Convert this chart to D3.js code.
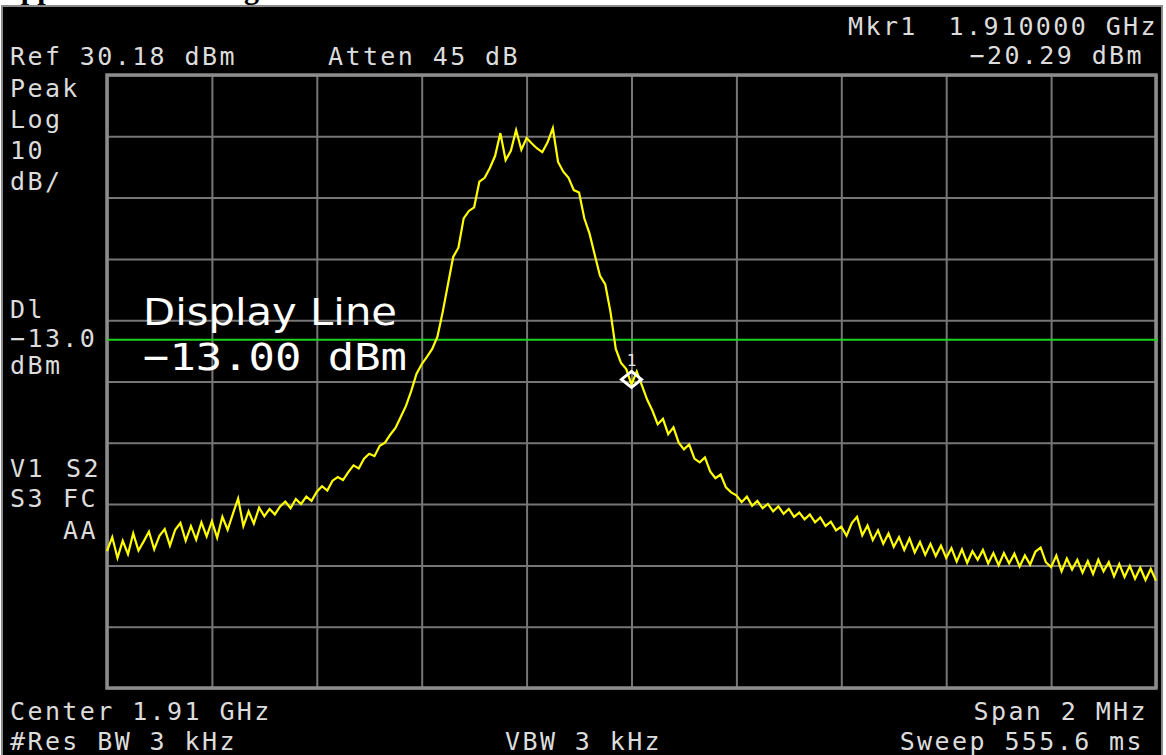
<!DOCTYPE html>
<html>
<head>
<meta charset="utf-8">
<script src="https://cdn.jsdelivr.net/npm/d3@7"></script>
<style>
  html, body { margin: 0; padding: 0; background: #ffffff; }
  svg { display: block; }
</style>
</head>
<body>
<svg id="chart" width="1166" height="755"></svg>
<script>
// ---- Analyzer settings ----
const refLevelDbm = 30.18;
const dbPerDiv = 10;
const divisions = [0, 1, 2, 3, 4, 5, 6, 7, 8, 9, 10];
const centerGHz = 1.91;
const spanMHz = 2;
const displayLineDbm = -13.0;
const markerFreqGHz = 1.91;
const markerLevelDbm = -20.29;

// ---- Annotation text ----
const headerLeft = ["Ref 30.18 dBm", "Atten 45 dB"];
const headerRight = ["Mkr1", "1.910000 GHz", "\u221220.29 dBm"];
const sideTop = ["Peak", "Log", "10", "dB/"];
const sideMid = ["Dl", "\u221213.0", "dBm"];
const footer = ["Center 1.91 GHz", "#Res BW 3 kHz", "VBW 3 kHz", "Span 2 MHz", "Sweep 555.6 ms"];
const displayLineLabel = ["Display Line", "\u221213.00 dBm"];

// ---- Trace (dBm), 201 points across the span ----
const traceDbm = [
  -47.5,-45.2,-48.6,-45.8,-48.0,-44.6,-47.4,-45.9,-44.3,-47.2,
  -45.0,-43.9,-46.6,-44.0,-42.9,-45.8,-43.4,-45.6,-42.8,-45.1,
  -42.6,-45.3,-41.9,-44.0,-41.4,-38.9,-43.4,-41.0,-43.0,-40.4,
  -41.8,-40.6,-41.5,-40.2,-39.4,-40.5,-39.0,-39.8,-38.6,-39.3,
  -37.8,-36.9,-37.6,-36.0,-35.4,-35.9,-34.6,-33.5,-34.0,-32.4,
  -31.6,-32.0,-30.3,-29.8,-28.5,-27.4,-25.6,-23.8,-21.4,-18.6,
  -17.0,-15.8,-14.5,-12.5,-8.5,-4.0,0.5,2.0,6.8,8.0,
  8.6,12.8,13.4,15.0,17.0,20.7,16.3,17.8,21.2,18.0,
  19.9,19.0,18.2,17.6,19.2,21.5,16.0,14.4,13.4,11.4,
  11.0,6.8,4.3,0.8,-2.6,-4.0,-8.5,-14.5,-16.8,-17.8,
  -20.29,-18.2,-20.5,-22.8,-24.6,-26.8,-25.9,-28.4,-27.3,-29.8,
  -30.9,-30.1,-32.4,-33.0,-32.2,-34.5,-35.6,-35.0,-37.1,-37.9,
  -38.4,-39.5,-38.6,-40.1,-39.3,-40.5,-39.8,-41.0,-40.2,-41.4,
  -40.6,-41.9,-41.2,-42.3,-41.5,-42.8,-42.0,-43.4,-42.7,-44.1,
  -43.5,-45.0,-42.9,-41.9,-44.9,-43.3,-45.7,-44.1,-46.3,-44.6,
  -46.8,-45.2,-47.3,-45.4,-47.7,-46.0,-48.1,-46.3,-48.3,-46.6,
  -48.6,-47.0,-49.2,-47.2,-49.4,-47.5,-48.9,-47.3,-49.5,-47.8,
  -49.8,-47.8,-49.5,-47.9,-50.0,-48.2,-49.7,-47.6,-46.9,-49.3,
  -50.1,-48.2,-50.8,-48.7,-50.5,-48.9,-51.0,-49.1,-51.2,-48.9,
  -50.8,-49.3,-51.6,-49.6,-51.7,-49.9,-52.0,-50.2,-52.2,-50.4,
  -52.3
];

// ---- Layout ----
const W = 1166, H = 755;
const plot = { left: 107, right: 1156, top: 75, bottom: 688 };
const spanGHz = spanMHz / 1000;
const startGHz = centerGHz - spanGHz / 2;
const stopGHz = centerGHz + spanGHz / 2;
const nDiv = divisions.length - 1;

const x = d3.scaleLinear().domain([startGHz, stopGHz]).range([plot.left, plot.right]);
const y = d3.scaleLinear()
  .domain([refLevelDbm - dbPerDiv * nDiv, refLevelDbm])
  .range([plot.bottom, plot.top]);

const traceFreq = d3.range(traceDbm.length)
  .map(i => startGHz + i * spanGHz / (traceDbm.length - 1));
const trace = traceDbm.map((v, i) => ({ f: traceFreq[i], v }));

const svg = d3.select("#chart");

// page strip above the screen, with the cut-off caption
svg.append("rect").attr("x", 0).attr("y", 0).attr("width", W).attr("height", H).attr("fill", "#ffffff");
svg.append("text")
  .attr("x", -1).attr("y", -1)
  .attr("font-family", "'Liberation Serif', serif")
  .attr("font-weight", "bold")
  .attr("font-size", 30)
  .attr("fill", "#000")
  .text("Appendix B: Setting");

// instrument screen
svg.append("rect")
  .attr("x", 2).attr("y", 6).attr("width", 1160).attr("height", H - 5)
  .attr("fill", "#000").attr("stroke", "#8a8a8a").attr("stroke-width", 2);

// graticule via axes
const xTicks = divisions.map(k => startGHz + k * spanGHz / nDiv);
const yTicks = divisions.map(k => refLevelDbm - k * dbPerDiv);

const gridStyle = g => {
  g.select(".domain").remove();
  g.selectAll(".tick text").remove();
  g.selectAll(".tick line").attr("stroke", "#767676").attr("stroke-width", 2);
};

svg.append("g")
  .attr("transform", `translate(0,${plot.bottom})`)
  .call(d3.axisBottom(x).tickValues(xTicks).tickSize(-(plot.bottom - plot.top)).tickFormat(""))
  .call(gridStyle);

svg.append("g")
  .attr("transform", `translate(${plot.left},0)`)
  .call(d3.axisLeft(y).tickValues(yTicks).tickSize(-(plot.right - plot.left)).tickFormat(""))
  .call(gridStyle);

// graticule border
svg.append("rect")
  .attr("x", plot.left).attr("y", plot.top)
  .attr("width", plot.right - plot.left).attr("height", plot.bottom - plot.top)
  .attr("fill", "none").attr("stroke", "#8c8c8c").attr("stroke-width", 3.5);

// small annotation text
const mono = "'DejaVu Sans Mono', 'Liberation Mono', monospace";
function label(txt, px, py, anchor) {
  return svg.append("text")
    .attr("x", px).attr("y", py)
    .attr("text-anchor", anchor || "start")
    .attr("font-family", mono)
    .attr("font-size", 25)
    .attr("letter-spacing", "2.4px")
    .attr("fill", "#dcdcdc")
    .text(txt);
}

label(headerLeft[0], 10, 65);
label(headerLeft[1], 328, 65);
label(headerRight[0], 848, 35);
label(headerRight[1], 1158, 35, "end");
label(headerRight[2], 1144, 64, "end");

sideTop.forEach((t, i) => label(t, 10, 97 + i * 31));
label(sideMid[0], 10, 318);
label(sideMid[1], 10, 347);
label(sideMid[2], 10, 374);

label("V1", 10, 477);
label("S2", 66, 477);
label("S3", 10, 507);
label("FC", 63, 507);
label("AA", 63, 539);

label(footer[0], 10, 720);
label(footer[1], 10, 750);
label(footer[2], 505, 750);
label(footer[3], 1148, 720, "end");
label(footer[4], 1144, 750, "end");

// display line
svg.append("line")
  .attr("x1", plot.left).attr("x2", plot.right + 2)
  .attr("y1", y(displayLineDbm)).attr("y2", y(displayLineDbm))
  .attr("stroke", "#1ed21e").attr("stroke-width", 2);

// display line callout
svg.append("text")
  .attr("x", 143).attr("y", 325)
  .attr("font-family", "'DejaVu Sans', sans-serif")
  .attr("font-size", 38)
  .attr("textLength", 254).attr("lengthAdjust", "spacingAndGlyphs")
  .attr("fill", "#ffffff")
  .text(displayLineLabel[0]);
svg.append("text")
  .attr("x", 143).attr("y", 370)
  .attr("font-family", "'DejaVu Sans Mono', monospace")
  .attr("font-size", 38)
  .attr("textLength", 264).attr("lengthAdjust", "spacingAndGlyphs")
  .attr("fill", "#ffffff")
  .text(displayLineLabel[1]);

// trace
svg.append("path")
  .datum(trace)
  .attr("fill", "none")
  .attr("stroke", "#ffff00")
  .attr("stroke-width", 2.2)
  .attr("stroke-linejoin", "miter")
  .attr("d", d3.line().x(d => x(d.f)).y(d => y(d.v)));

// marker 1
const mx = x(markerFreqGHz), my = y(markerLevelDbm) - 5;
svg.append("path")
  .attr("d", `M${mx},${my - 8} L${mx + 10},${my} L${mx},${my + 8} L${mx - 10},${my} Z`)
  .attr("fill", "none").attr("stroke", "#ffffff").attr("stroke-width", 3);
svg.append("text")
  .attr("x", mx).attr("y", my - 13)
  .attr("text-anchor", "middle")
  .attr("font-family", mono)
  .attr("font-size", 16)
  .attr("fill", "#e4e4e4")
  .text("1");
</script>
</body>
</html>
